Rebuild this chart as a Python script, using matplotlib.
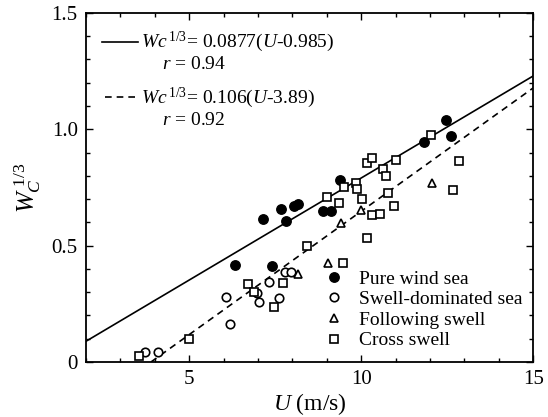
import numpy as np
import matplotlib
matplotlib.use("Agg")
from matplotlib import pyplot as plt
from matplotlib.ticker import MultipleLocator, FixedLocator, FixedFormatter
from matplotlib.lines import Line2D

plt.rcParams['font.family'] = ['Liberation Serif', 'DejaVu Serif']
plt.rcParams['mathtext.fontset'] = 'custom'
plt.rcParams['mathtext.rm'] = 'Liberation Serif'
plt.rcParams['mathtext.it'] = 'Liberation Serif:italic'

# ============ data ============

# pure wind sea (filled circles)
wind_u = [6.34, 7.40, 7.14, 7.66, 7.81, 8.05, 8.15, 8.88, 9.11, 9.38, 11.83, 12.47, 12.60]
wind_w = [0.416, 0.412, 0.614, 0.657, 0.606, 0.670, 0.680, 0.648, 0.648, 0.781, 0.946, 1.039, 0.970]

# swell-dominated sea (open circles)
swell_u = [3.72, 4.09, 6.07, 6.18, 6.98, 7.02, 7.33, 7.62, 7.78, 7.95]
swell_w = [0.042, 0.042, 0.278, 0.162, 0.295, 0.256, 0.342, 0.273, 0.385, 0.385]

# following swell (triangles)
follow_u = [8.17, 9.04, 9.40, 9.99, 12.05]
follow_w = [0.380, 0.424, 0.597, 0.655, 0.767]

# cross swell (squares)
cross_u = [3.55, 4.99, 6.72, 6.88, 7.45, 7.74, 8.42, 9.01, 9.36, 9.48, 9.50, 9.85, 9.89,
           10.01, 10.16, 10.16, 10.31, 10.31, 10.55, 10.64, 10.72, 10.79, 10.95, 11.01,
           12.02, 12.68, 12.85]
cross_w = [0.026, 0.100, 0.335, 0.300, 0.235, 0.338, 0.500, 0.710, 0.681, 0.424, 0.752, 0.767, 0.745,
           0.700, 0.857, 0.531, 0.878, 0.631, 0.638, 0.828, 0.800, 0.724, 0.670, 0.867,
           0.974, 0.741, 0.863]

# regression fits: Wc^(1/3) = a (U - b)
fit_a = [0.0877, 0.106]
fit_b = [0.985, 3.89]
fit_r = [0.94, 0.92]

x_ticks = [5, 10, 15]
y_ticks = [0, 0.5, 1.0, 1.5]
y_tick_labels = ['0', '0.5', '1.0', '1.5']

# ============ plotting ============

fig = plt.figure(figsize=(5.48, 4.17), dpi=100)
ax = fig.add_axes([0.157, 0.132, 0.816, 0.837])

ms = 6.8
mew = 1.2
ax.plot(wind_u, wind_w, 'o', color='k', ms=ms, zorder=3)
ax.plot(swell_u, swell_w, 'o', mfc='white', mec='k', mew=mew, ms=ms - 0.7, zorder=3)
ax.plot(follow_u, follow_w, '^', mfc='white', mec='k', mew=mew, ms=ms - 0.4, zorder=3)
ax.plot(cross_u, cross_w, 's', mfc='white', mec='k', mew=mew, ms=ms - 0.7, zorder=3)

# fit lines
u1 = np.array([2.0, 15.0])
ax.plot(u1, fit_a[0] * (u1 - fit_b[0]), '-', color='k', lw=1.2, zorder=2)
u2 = np.array([fit_b[1], 15.0])
ax.plot(u2, fit_a[1] * (u2 - fit_b[1]), '--', color='k', lw=1.2, dashes=(4, 3), zorder=2)

# fit annotations (top left)
ax.plot([0.036, 0.117], [0.917, 0.917], '-', color='k', lw=1.2, transform=ax.transAxes)
ax.plot([0.042, 0.117], [0.758, 0.758], '--', color='k', lw=1.2, dashes=(4, 3),
        transform=ax.transAxes)
fs_txt = 14
ax.text(0.122, 0.917, r'$Wc^{\,1/3}$' + '= %.4f(' % fit_a[0] + r'$U$' + '-%.3f)' % fit_b[0],
        transform=ax.transAxes, fontsize=fs_txt, va='center', ha='left')
ax.text(0.17, 0.853, r'$r$' + ' = %.2f' % fit_r[0],
        transform=ax.transAxes, fontsize=fs_txt, va='center', ha='left')
ax.text(0.122, 0.758, r'$Wc^{\,1/3}$' + '= %.3f(' % fit_a[1] + r'$U$' + '-%.2f)' % fit_b[1],
        transform=ax.transAxes, fontsize=fs_txt, va='center', ha='left')
ax.text(0.17, 0.693, r'$r$' + ' = %.2f' % fit_r[1],
        transform=ax.transAxes, fontsize=fs_txt, va='center', ha='left')

# legend for the markers
handles = [
    Line2D([], [], ls='none', marker='o', color='k', ms=ms),
    Line2D([], [], ls='none', marker='o', mfc='white', mec='k', mew=mew, ms=ms - 0.7),
    Line2D([], [], ls='none', marker='^', mfc='white', mec='k', mew=mew, ms=ms - 0.4),
    Line2D([], [], ls='none', marker='s', mfc='white', mec='k', mew=mew, ms=ms - 0.7),
]
labels = ['Pure wind sea', 'Swell-dominated sea', 'Following swell', 'Cross swell']
ax.legend(handles, labels, loc='lower left', bbox_to_anchor=(0.505, 0.0),
          frameon=False, fontsize=fs_txt, handlelength=1.0, handletextpad=0.75,
          labelspacing=0.15, borderaxespad=0.25)

ax.set_xlim(2, 15)
ax.set_ylim(0, 1.5)
ax.xaxis.set_major_locator(FixedLocator(x_ticks))
ax.xaxis.set_minor_locator(MultipleLocator(1))
ax.yaxis.set_major_locator(FixedLocator(y_ticks))
ax.yaxis.set_major_formatter(FixedFormatter(y_tick_labels))
ax.yaxis.set_minor_locator(MultipleLocator(0.1))
ax.tick_params(which='both', direction='in', top=True, right=True, labelsize=15, width=1.0)
ax.tick_params(which='major', length=5, pad=6)
ax.tick_params(which='minor', length=3)
for sp in ax.spines.values():
    sp.set_linewidth(1.3)

ax.set_xlabel(r'$U$' + ' (m/s)', fontsize=17, labelpad=1)
ax.set_ylabel(r'$W_C^{\ 1/3}$', fontsize=18, labelpad=6)

plt.savefig('out.png', dpi=100)
